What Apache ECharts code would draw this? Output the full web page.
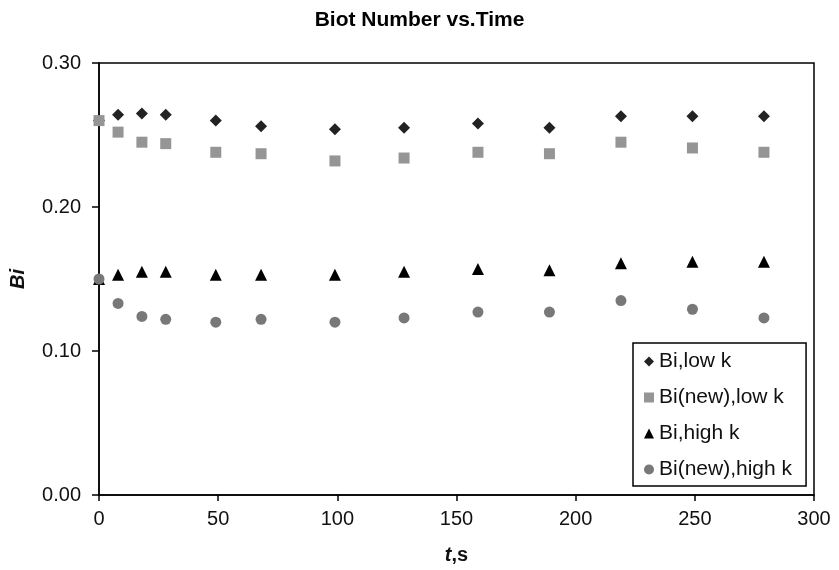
<!DOCTYPE html>
<html lang="en">
<head>
    <meta charset="UTF-8">
    <title>Biot Number vs.Time</title>
    <script src="https://cdn.jsdelivr.net/npm/echarts@6/dist/echarts.min.js"></script>
    <style>
        body { margin: 0; background: #fff; }
    </style>
</head>
<body>
<div id="main" style="width: 839px;height: 570px"></div>
<script type="text/javascript">
    // time, s
    var times = [0, 8, 18, 28, 49, 68, 99, 128, 159, 189, 219, 249, 279];
    var biLowK = [0.260, 0.264, 0.265, 0.264, 0.260, 0.256, 0.254, 0.255, 0.258, 0.255, 0.263, 0.263, 0.263];
    var biNewLowK = [0.260, 0.252, 0.245, 0.244, 0.238, 0.237, 0.232, 0.234, 0.238, 0.237, 0.245, 0.241, 0.238];
    var biHighK = [0.150, 0.153, 0.155, 0.155, 0.153, 0.153, 0.153, 0.155, 0.157, 0.156, 0.161, 0.162, 0.162];
    var biNewHighK = [0.150, 0.133, 0.124, 0.122, 0.120, 0.122, 0.120, 0.123, 0.127, 0.127, 0.135, 0.129, 0.123];
    var seriesNames = ['Bi,low k', 'Bi(new),low k', 'Bi,high k', 'Bi(new),high k'];

    function pairs(ys) {
        var out = [];
        for (var i = 0; i < times.length; i++) {
            out.push([times[i], ys[i]]);
        }
        return out;
    }

    var font = 'Liberation Sans, Arial, sans-serif';
    var myChart = echarts.init(document.getElementById('main'));
    var option = {
        animation: false,
        title: {
            text: 'Biot Number vs.Time',
            left: 'center',
            top: 5,
            textStyle: {
                fontFamily: font,
                fontSize: 21,
                fontWeight: 'bold',
                color: '#000'
            }
        },
        grid: {
            left: 96,
            right: 25,
            top: 63,
            bottom: 73,
            show: true,
            borderColor: '#000',
            borderWidth: 1.5
        },
        legend: {
            orient: 'vertical',
            left: 633,
            top: 343,
            padding: [8, 14, 6, 11],
            itemGap: 15,
            itemWidth: 10,
            itemHeight: 10,
            borderColor: '#000',
            borderWidth: 1.5,
            backgroundColor: '#fff',
            textStyle: { fontFamily: font, fontSize: 21, color: '#111' },
            data: seriesNames
        },
        xAxis: {
            type: 'value',
            min: 0,
            max: 300,
            interval: 50,
            name: '{i|t},s',
            nameLocation: 'middle',
            nameGap: 50,
            nameTextStyle: {
                fontFamily: font, fontSize: 20, fontWeight: 'bold', color: '#111',
                rich: { i: { fontFamily: font, fontSize: 20, fontWeight: 'bold', fontStyle: 'italic', color: '#111' } }
            },
            axisLine: { lineStyle: { color: '#000', width: 1.5 } },
            axisTick: { show: true, length: 6, lineStyle: { color: '#000', width: 1.5 } },
            axisLabel: { fontFamily: font, fontSize: 20, color: '#111', margin: 14 },
            splitLine: { show: false }
        },
        yAxis: {
            type: 'value',
            min: 0,
            max: 0.3,
            interval: 0.1,
            name: 'Bi',
            nameLocation: 'middle',
            nameGap: 71,
            nameTextStyle: { fontFamily: font, fontSize: 20, fontWeight: 'bold', fontStyle: 'italic', color: '#111' },
            axisLine: { lineStyle: { color: '#000', width: 1.5 } },
            axisTick: { show: true, length: 7, lineStyle: { color: '#000', width: 1.5 } },
            axisLabel: {
                fontFamily: font, fontSize: 20, color: '#111', margin: 18,
                formatter: function (v) { return v.toFixed(2); }
            },
            splitLine: { show: false }
        },
        series: [
            {
                name: seriesNames[0], type: 'scatter', symbol: 'diamond', symbolSize: 12,
                itemStyle: { color: '#222', opacity: 1 }, data: pairs(biLowK)
            },
            {
                name: seriesNames[1], type: 'scatter', symbol: 'rect', symbolSize: 11,
                itemStyle: { color: '#959595', opacity: 1 }, data: pairs(biNewLowK)
            },
            {
                name: seriesNames[2], type: 'scatter', symbol: 'triangle', symbolSize: 12,
                itemStyle: { color: '#000', opacity: 1 }, data: pairs(biHighK)
            },
            {
                name: seriesNames[3], type: 'scatter', symbol: 'circle', symbolSize: 11,
                itemStyle: { color: '#787878', opacity: 1 }, data: pairs(biNewHighK)
            }
        ]
    };
    myChart.setOption(option);
</script>
</body>
</html>
